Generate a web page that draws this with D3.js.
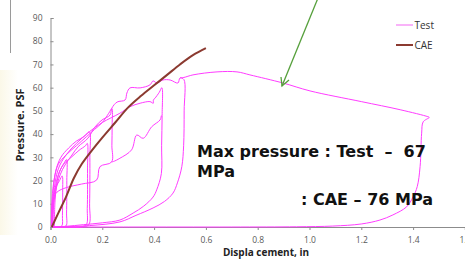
<!DOCTYPE html>
<html>
<head>
<meta charset="utf-8">
<script src="https://cdn.jsdelivr.net/npm/d3@7"></script>
<style>
	body { margin: 0; background: #fff; }
	svg { display: block; }
</style>
</head>
<body>
<div id="chart"></div>
<script>
// axis ticks
var xTicks = [0, 0.2, 0.4, 0.6, 0.8, 1.0, 1.2, 1.4, 1.6];
var yTicks = [0, 10, 20, 30, 40, 50, 60, 70, 80, 90];

// test curves, [displacement, pressure] per cycle
var testSmall = [[0.004,0],[0.005,7],[0.01,13],[0.02,17],[0.035,20],[0.045,22],[0.047,15],[0.046,5],[0.044,0.5],[0.03,0],[0.01,0]];
var testCycle2 = [[0.01,0],[0.012,10],[0.02,18],[0.035,24],[0.05,27],[0.062,29],[0.063,20],[0.062,6],[0.06,0.5],[0.04,0],[0.015,0]];
var testCycle3 = [[0.015,0],[0.018,12],[0.03,22],[0.05,27],[0.08,30],[0.11,33],[0.135,35],[0.142,36],[0.143,25],[0.142,8],[0.138,1],[0.11,0],[0.05,0],[0.02,0]];
var testCycle4 = [[0.006,0],[0.01,15],[0.02,24],[0.04,30],[0.07,34],[0.1,37],[0.13,39],[0.15,41],[0.152,30],[0.151,10],[0.148,1],[0.12,0],[0.06,0],[0.01,0]];
var testCycle5 = [[0.003,0],[0.006,12],[0.015,21],[0.03,27],[0.06,31],[0.1,35],[0.14,39],[0.17,42],[0.2,45],[0.225,49],[0.237,51],[0.238,44],[0.237,35],[0.236,28],[0.191,26],[0.178,20.2],[0.12,18.5],[0.062,17],[0.025,15],[0.011,12],[0.006,0]];
var testReload = [[0.236,28],[0.243,28.2],[0.268,29.6],[0.313,33.2],[0.333,39.6],[0.358,38.2],[0.391,43.2],[0.423,46.1],[0.428,48]];
var testCycle6 = [[0.008,0],[0.012,14],[0.03,25],[0.06,31],[0.1,36],[0.15,41],[0.2,45],[0.268,49],[0.307,51.8],[0.346,53.3],[0.384,54],[0.397,53.3],[0.397,54.7],[0.403,55.4],[0.42,58],[0.43,60],[0.431,48],[0.429,35],[0.428,23],[0.41,16],[0.396,12.9],[0.36,9],[0.319,6],[0.268,3],[0.2,1.8],[0.127,1],[0.06,0.3],[0.011,0]];
var testCycle7 = [[0.006,0],[0.0097,7.3],[0.021,15.9],[0.037,22.4],[0.056,26.7],[0.083,31],[0.106,34.5],[0.145,38.3],[0.172,43.1],[0.199,46.1],[0.23,48.2],[0.237,51.2],[0.257,53.8],[0.288,54.7],[0.295,57.7],[0.307,59.9],[0.346,59.9],[0.384,61.2],[0.396,62.9],[0.411,62],[0.434,63.3],[0.462,63.3],[0.492,62],[0.5,64.2],[0.515,63.5],[0.516,50],[0.514,35],[0.507,26],[0.49,19],[0.473,14.6],[0.44,11],[0.396,8.2],[0.33,5],[0.268,2.2],[0.15,0.6],[0.05,0.1],[0.008,0]];
var testFinal = [[0.5,64.2],[0.515,64.4],[0.55,65.5],[0.643,66.8],[0.72,66.8],[0.77,65.5],[0.898,62],[1.002,58.6],[1.2,54],[1.35,50.5],[1.457,47.5],[1.4625,47.2],[1.439,45.3],[1.433,40.4],[1.427,26],[1.416,17.4],[1.4,13],[1.375,8.7],[1.322,5.2],[1.272,3],[1.2,1.3],[1.09,0.4],[0.95,0.1],[0.7,0],[0.3,0],[0.05,0],[0.006,0]];
var testSeries = [testSmall, testCycle2, testCycle3, testCycle4, testCycle5, testReload, testCycle6, testCycle7, testFinal];

// cae prediction
var caeCurve = [[0.005,0],[0.03,6],[0.06,13],[0.09,21],[0.12,27],[0.16,33],[0.2,38.5],[0.25,45],[0.3,51.5],[0.35,56.5],[0.4,61],[0.45,65.5],[0.5,70],[0.55,74],[0.6,77]];

var graph = {};
graph.width = 465;
graph.height = 260;
graph.margin = {top: 18, right: 0, bottom: 33, left: 50.5};

var x = d3.scaleLinear().domain([0, 1.6]).range([graph.margin.left, graph.margin.left + 414.4]);
var y = d3.scaleLinear().domain([0, 90]).range([graph.height - graph.margin.bottom, graph.margin.top]);

graph.svg = d3.select("#chart").append("svg")
	.attr("width", graph.width)
	.attr("height", graph.height);

// faint slide background strip on the left
var grad = graph.svg.append("defs").append("linearGradient")
	.attr("id", "strip")
	.attr("x1", 0).attr("x2", 1).attr("y1", 0).attr("y2", 0);
grad.append("stop").attr("offset", "0%").attr("stop-color", "#fbf8e8");
grad.append("stop").attr("offset", "100%").attr("stop-color", "#ffffff");
graph.svg.append("rect")
	.attr("x", 0).attr("y", 70)
	.attr("width", 18).attr("height", 165)
	.attr("fill", "url(#strip)");

graph.svg.append("line")
	.attr("x1", 10.5).attr("x2", 10.5)
	.attr("y1", 0).attr("y2", 53)
	.attr("stroke", "#9a9a9a")
	.attr("stroke-width", 1);

// axes
var xAxis = graph.svg.append("g")
	.attr("transform", "translate(0," + y(0) + ")")
	.call(d3.axisBottom(x).tickValues(xTicks).tickSize(3).tickPadding(7)
		.tickFormat(d3.format(".1f")));

var yAxis = graph.svg.append("g")
	.attr("transform", "translate(" + x(0) + ",0)")
	.call(d3.axisLeft(y).tickValues(yTicks).tickSize(-3).tickPadding(8));

[xAxis, yAxis].forEach(function (g) {
	g.select(".domain").attr("stroke", "#8c8c8c");
	g.selectAll(".tick line").attr("stroke", "#8c8c8c");
	g.selectAll(".tick text")
		.attr("fill", "#595959")
		.attr("font-family", "Open Sans, sans-serif")
		.attr("font-size", "8.5px");
});

graph.line = d3.line()
	.x(function (d) { return x(d[0]); })
	.y(function (d) { return y(d[1]); })
	.curve(d3.curveCatmullRom.alpha(0.5));

// test curves
graph.svg.append("g")
	.selectAll("path")
	.data(testSeries)
	.enter().append("path")
	.attr("d", graph.line)
	.attr("fill", "none")
	.attr("stroke", "#ff3cff")
	.attr("stroke-width", 1);

// cae curve
graph.svg.append("path")
	.datum(caeCurve)
	.attr("d", graph.line)
	.attr("fill", "none")
	.attr("stroke", "#8b3a30")
	.attr("stroke-width", 2);

// green arrow pointing at the test peak region
graph.svg.append("line")
	.attr("x1", 318).attr("y1", -2)
	.attr("x2", 282).attr("y2", 86)
	.attr("stroke", "#56a03c")
	.attr("stroke-width", 1.3);
graph.svg.append("path")
	.attr("d", "M281,77 L282,86 L289,80")
	.attr("fill", "none")
	.attr("stroke", "#56a03c")
	.attr("stroke-width", 1.3);

// legend
var legend = graph.svg.append("g").attr("font-family", "Open Sans, sans-serif").attr("font-size", "10px");
var legendItems = [{name: "Test", color: "#f9b3f9", y: 25}, {name: "CAE", color: "#8b3a30", y: 45}];
legendItems.forEach(function (d) {
	legend.append("line")
		.attr("x1", 396).attr("x2", 413)
		.attr("y1", d.y).attr("y2", d.y)
		.attr("stroke", d.color)
		.attr("stroke-width", 2);
	legend.append("text")
		.attr("x", 414.5).attr("y", d.y + 3.5)
		.attr("fill", "#333")
		.text(d.name);
});

// axis titles
graph.svg.append("text")
	.attr("x", 266).attr("y", 256)
	.attr("text-anchor", "middle")
	.attr("font-family", "Open Sans, sans-serif")
	.attr("font-weight", "bold")
	.attr("font-size", "10px")
	.attr("fill", "#222")
	.text("Displa cement, in");

graph.svg.append("text")
	.attr("transform", "translate(24,125) rotate(-90)")
	.attr("text-anchor", "middle")
	.attr("font-family", "Open Sans, sans-serif")
	.attr("font-weight", "bold")
	.attr("font-size", "11px")
	.attr("fill", "#222")
	.text("Pressure. PSF");

// annotation
var note = graph.svg.append("g")
	.attr("font-family", "DejaVu Sans, sans-serif")
	.attr("font-weight", "bold")
	.attr("font-size", "16px")
	.attr("fill", "#111");
note.append("text").attr("x", 197).attr("y", 157).text("Max pressure : Test\u00a0\u00a0\u2013\u00a0\u00a067");
note.append("text").attr("x", 197).attr("y", 177).text("MPa");
note.append("text").attr("x", 433).attr("y", 205).attr("text-anchor", "end").text(": CAE \u2013 76 MPa");
</script>
</body>
</html>
